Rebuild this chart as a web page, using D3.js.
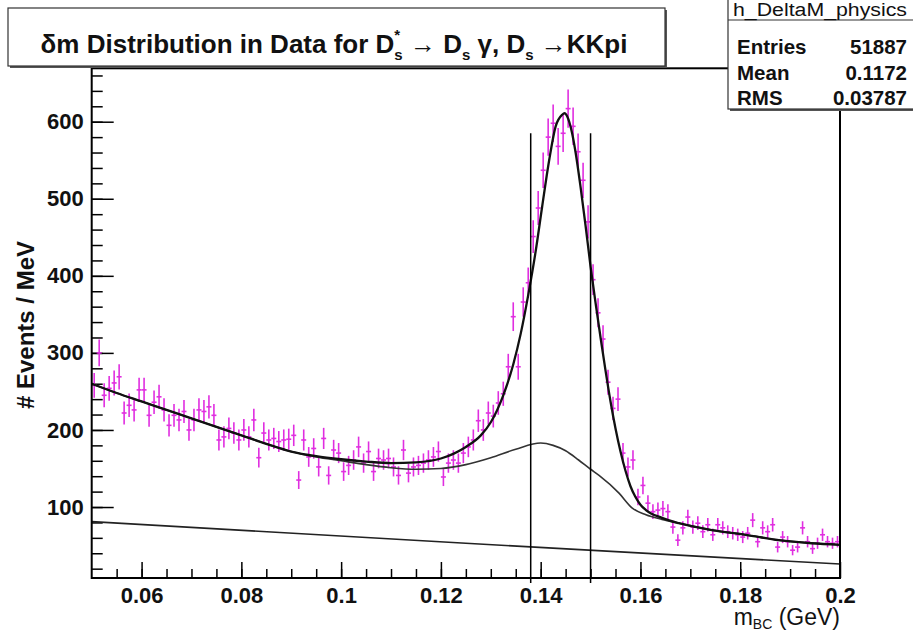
<!DOCTYPE html>
<html lang="en">
<head>
<meta charset="UTF-8">
<title>delta m distribution</title>
<script src="https://cdn.jsdelivr.net/npm/d3@7"></script>
<style>
  body { margin: 0; background: #fff; }
  text { font-family: "Liberation Sans", Arial, Helvetica, sans-serif; white-space: pre; }
</style>
</head>
<body>
<svg width="913" height="634"></svg>
<script>
// histogram: 1 MeV bins, 0.05 - 0.2 GeV
var binStart = 0.05;
var binWidth = 0.001;
var counts = [
  258, 300, 245, 254, 261, 269, 222, 232, 226, 252,
  252, 219, 236, 243, 226, 206, 219, 213, 224, 200,
  213, 226, 224, 230, 219, 187, 191, 202, 196, 187,
  200, 191, 213, 164, 196, 187, 189, 185, 187, 188,
  193, 135, 187, 165, 176, 152, 189, 141, 174, 170,
  146, 154, 161, 178, 157, 172, 146, 163, 161, 163,
  152, 141, 174, 144, 152, 154, 157, 161, 165, 172,
  139, 157, 161, 157, 170, 178, 187, 212, 200, 222,
  218, 235, 247, 282, 347, 282, 366, 391, 451, 488,
  537, 580, 598, 568, 585, 617, 594, 561, 524, 470,
  395, 352, 318, 262, 228, 240, 170, 152, 161, 113,
  128, 105, 94, 96, 98, 94, 74, 57, 73, 87,
  74, 79, 68, 77, 64, 77, 73, 68, 66, 64,
  61, 66, 83, 55, 73, 68, 77, 48, 61, 55,
  44, 48, 73, 55, 46, 53, 64, 55, 53, 55
];

// fit curves [GeV, events/MeV]
var fitTotal = [
  [0.05, 260], [0.055, 248], [0.06, 237], [0.065, 226], [0.07, 215], [0.075, 204],
  [0.08, 193], [0.085, 182], [0.09, 172], [0.095, 166], [0.1, 162], [0.105, 159],
  [0.11, 157], [0.115, 158], [0.12, 163], [0.125, 178], [0.128, 193], [0.13, 210],
  [0.1325, 245], [0.1345, 285], [0.136, 325], [0.1375, 375], [0.139, 432],
  [0.1403, 490], [0.1417, 550], [0.143, 594], [0.1443, 609], [0.1448, 611],
  [0.1453, 607], [0.1463, 585], [0.147, 560], [0.148, 515], [0.149, 465],
  [0.15, 412], [0.151, 365], [0.152, 320], [0.153, 277], [0.154, 237],
  [0.155, 202], [0.156, 172], [0.157, 147], [0.158, 127], [0.159, 113],
  [0.16, 103], [0.1611, 96], [0.1643, 86], [0.1677, 79], [0.1743, 70],
  [0.1811, 64], [0.1877, 57], [0.1943, 53], [0.2, 51]
];
var fitBkgPeak = [
  [0.05, 260], [0.055, 248], [0.06, 237], [0.065, 226], [0.07, 215], [0.075, 204],
  [0.08, 193], [0.085, 182], [0.09, 172], [0.095, 165], [0.1, 160], [0.105, 155],
  [0.11, 151], [0.115, 149], [0.12, 150], [0.125, 155], [0.13, 164], [0.135, 175],
  [0.14, 183], [0.1425, 180], [0.145, 173], [0.1476, 161], [0.15, 149],
  [0.1517, 141], [0.1557, 118], [0.1583, 99], [0.1611, 90], [0.1643, 84],
  [0.1677, 79], [0.1743, 70], [0.1811, 64], [0.1877, 57], [0.1943, 53], [0.2, 51]
];
var fitBkgLine = [[0.05, 81], [0.125, 53], [0.2, 26]];

var cutLines = [0.138, 0.150];
var cutTop = 585;

var xTicks = [0.06, 0.08, 0.1, 0.12, 0.14, 0.16, 0.18, 0.2];
var xTickLabels = ["0.06", "0.08", "0.1", "0.12", "0.14", "0.16", "0.18", "0.2"];
var yTicks = [100, 200, 300, 400, 500, 600];

var histName = "h_DeltaM_physics";
var statsNames = ["Entries", "Mean", "RMS"];
var statsValues = ["51887", "0.1172", "0.03787"];

var svg = d3.select("svg");
var plotL = 91.7, plotR = 840, plotT = 68.3, plotB = 578;

var x = d3.scaleLinear().domain([0.05, 0.2]).range([plotL, plotR]);
var y = d3.scaleLinear().domain([7.9, 669.3]).range([plotB, plotT]);

// --- axes (ROOT style: ticks pointing inwards)
function styleAxis(sel) {
  sel.select(".domain").remove();
  sel.selectAll(".tick line").attr("stroke", "#000").attr("stroke-width", 1.5);
  sel.selectAll(".tick text").attr("fill", "#111").attr("font-size", 22)
    .attr("font-weight", "bold").attr("font-family", "Liberation Sans, Arial, sans-serif");
}

var xMinor = d3.range(0.055, 0.1999, 0.005);
svg.append("g").attr("transform", "translate(0," + plotB + ")")
  .call(d3.axisBottom(x).tickValues(xMinor).tickSize(-9).tickFormat(""))
  .call(styleAxis);
svg.append("g").attr("transform", "translate(0," + plotB + ")")
  .call(d3.axisBottom(x).tickValues(xTicks).tickSize(-16).tickPadding(9)
    .tickFormat(function (d, i) { return xTickLabels[i]; }))
  .call(styleAxis);

var yMinor = d3.range(20, 670, 20);
svg.append("g").attr("transform", "translate(" + plotL + ",0)")
  .call(d3.axisLeft(y).tickValues(yMinor).tickSize(-11).tickFormat(""))
  .call(styleAxis);
svg.append("g").attr("transform", "translate(" + plotL + ",0)")
  .call(d3.axisLeft(y).tickValues(yTicks).tickSize(-22).tickPadding(8))
  .call(styleAxis);

// --- data points with error bars
var pts = svg.append("g").attr("stroke", "#e02ee0").attr("stroke-width", 1.6);
counts.forEach(function (c, i) {
  var lo = binStart + i * binWidth, hi = lo + binWidth, mid = lo + binWidth / 2;
  var err = Math.sqrt(c);
  pts.append("line").attr("x1", x(mid)).attr("x2", x(mid))
    .attr("y1", y(c - err)).attr("y2", y(c + err));
  pts.append("line").attr("x1", x(lo)).attr("x2", x(hi))
    .attr("y1", y(c)).attr("y2", y(c));
});

// --- fit curves
var line = d3.line().x(function (d) { return x(d[0]); }).y(function (d) { return y(d[1]); })
  .curve(d3.curveMonotoneX);
svg.append("path").attr("d", line(fitBkgLine)).attr("fill", "none")
  .attr("stroke", "#222").attr("stroke-width", 1.6);
svg.append("path").attr("d", line(fitBkgPeak)).attr("fill", "none")
  .attr("stroke", "#333").attr("stroke-width", 1.6);
svg.append("path").attr("d", line(fitTotal)).attr("fill", "none")
  .attr("stroke", "#111").attr("stroke-width", 2.3);

// --- signal window lines
svg.selectAll(".cut").data(cutLines).enter().append("line")
  .attr("x1", function (d) { return x(d); }).attr("x2", function (d) { return x(d); })
  .attr("y1", y(cutTop)).attr("y2", plotB + 5)
  .attr("stroke", "#000").attr("stroke-width", 1.5);

// --- frame
svg.append("rect").attr("x", plotL).attr("y", plotT)
  .attr("width", plotR - plotL).attr("height", plotB - plotT)
  .attr("fill", "none").attr("stroke", "#000").attr("stroke-width", 2);

// text made of runs (sub/superscripts)
function richText(parent, runs, x0, y0, anchor) {
  var grp = parent.append("g");
  var cx = 0, lastW = 0;
  runs.forEach(function (r) {
    var t = grp.append("text").attr("y", r.dy || 0).attr("font-size", r.size)
      .attr("font-weight", r.weight || "normal").attr("fill", "#111").text(r.t);
    var w = t.node().getComputedTextLength();
    if (r.stack) {
      t.attr("x", cx - lastW);
      cx += Math.max(0, w - lastW);
    } else {
      t.attr("x", cx);
      cx += w; lastW = w;
    }
  });
  var shift = anchor === "middle" ? -cx / 2 : (anchor === "end" ? -cx : 0);
  grp.attr("transform", "translate(" + (x0 + shift) + "," + y0 + ")");
  return grp;
}

// axis titles
svg.append("text").attr("transform", "translate(34,325) rotate(-90)")
  .attr("text-anchor", "middle").attr("font-size", 24).attr("font-weight", "bold")
  .attr("fill", "#111").text("# Events / MeV");

richText(svg, [
  { t: "m", size: 23 },
  { t: "BC", size: 14, dy: 4 },
  { t: " (GeV)", size: 23 }
], plotR, 625, "end");

// --- title box
svg.append("rect").attr("x", 10).attr("y", 10).attr("width", 657).attr("height", 58)
  .attr("fill", "#555");
svg.append("rect").attr("x", 8).attr("y", 8).attr("width", 657).attr("height", 58)
  .attr("fill", "#fff").attr("stroke", "#333").attr("stroke-width", 1.2);

var tb = "bold";
richText(svg, [
  { t: "\u03b4m Distribution in Data for D", size: 26, weight: tb },
  { t: "*", size: 15, dy: -13, weight: tb },
  { t: "s", size: 15, dy: 7, weight: tb, stack: true },
  { t: " \u2192 D", size: 26, weight: tb },
  { t: "s", size: 15, dy: 7, weight: tb },
  { t: " \u03b3, D", size: 26, weight: tb },
  { t: "s", size: 15, dy: 7, weight: tb },
  { t: " \u2192KKpi", size: 26, weight: tb }
], 334, 53, "middle");

// --- stats box
var sb = svg.append("g");
sb.append("rect").attr("x", 730).attr("y", 1).attr("width", 190).attr("height", 110)
  .attr("fill", "#555");
sb.append("rect").attr("x", 728).attr("y", -1).attr("width", 190).attr("height", 110)
  .attr("fill", "#fff").attr("stroke", "#333").attr("stroke-width", 1.2);
sb.append("line").attr("x1", 728).attr("x2", 913).attr("y1", 20).attr("y2", 20)
  .attr("stroke", "#333").attr("stroke-width", 1.2);
sb.append("text").attr("x", 733).attr("y", 16)
  .attr("font-size", 18).attr("fill", "#111")
  .attr("textLength", 174).attr("lengthAdjust", "spacingAndGlyphs").text(histName);
statsNames.forEach(function (n, i) {
  sb.append("text").attr("x", 737).attr("y", 54 + i * 25.5)
    .attr("font-size", 20.5).attr("font-weight", "bold").attr("fill", "#111").text(n);
  sb.append("text").attr("x", 907).attr("y", 54 + i * 25.5).attr("text-anchor", "end")
    .attr("font-size", 20.5).attr("font-weight", "bold").attr("fill", "#111").text(statsValues[i]);
});
</script>
</body>
</html>
